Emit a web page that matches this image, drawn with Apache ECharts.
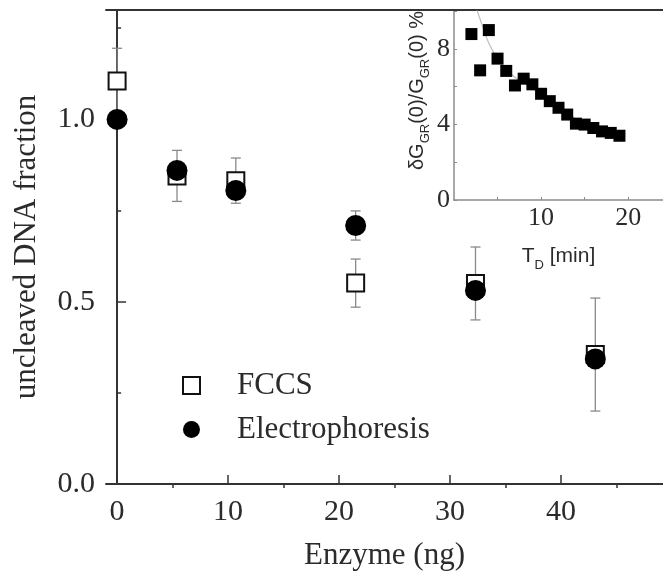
<!DOCTYPE html>
<html>
<head>
<meta charset="utf-8">
<script src="https://cdn.jsdelivr.net/npm/echarts@6/dist/echarts.min.js"></script>
<style>
  html, body { margin: 0; padding: 0; background: #fff; }
  #chart { width: 663px; height: 576px; }
</style>
</head>
<body>
<div id="chart"></div>
<script>
// main plot: enzyme amount (ng) vs uncleaved DNA fraction
var enzyme = [0, 5.4, 10.7, 21.5, 32.3, 43.1];
var fccs = [1.105, 0.845, 0.832, 0.551, 0.55, 0.355];
var fccsErr = [0.09, 0.07, 0.062, 0.066, 0.1, 0.155];
var electro = [1.0, 0.86, 0.805, 0.709, 0.531, 0.343];
var electroErr = [0, 0, 0, 0.04, 0, 0];

var xMajor = [0, 10, 20, 30, 40];
var xMinor = [5, 15, 25, 35, 45];
var yMajor = [0, 0.5, 1.0];
var yMinor = [0.25, 0.75, 1.25];

// inset: relative fluctuation vs measuring time
var tD = [2, 3, 4, 5, 6, 7, 8, 9, 10, 11, 12, 13, 14, 15, 16, 17, 18, 19];
var dG = [8.78, 6.86, 8.99, 7.48, 6.83, 6.06, 6.42, 6.12, 5.62, 5.23, 4.88, 4.52, 4.04, 3.99, 3.81, 3.63, 3.55, 3.40];
var fitT = [2.6, 3.2, 4.0, 5, 6, 7, 8, 10, 12, 14, 16, 18, 19];
var fitG = [10.1, 9.3, 8.3, 7.5, 6.9, 6.5, 6.2, 5.6, 4.9, 4.3, 3.9, 3.55, 3.4];
var insetXMajor = [10, 20];
var insetXMinor = [5, 15];
var insetYMajor = [0, 4, 8];
var insetYMinor = [2, 6, 10];

var serif = "Liberation Serif";
var sans = "Liberation Sans";
var txt = "#2b2b2b";

function pairs(xs, ys) {
  return xs.map(function (x, i) { return [x, ys[i]]; });
}
function errData(xs, ys, es) {
  var out = [];
  xs.forEach(function (x, i) {
    if (es[i] > 0) out.push([x, ys[i] - es[i], ys[i] + es[i]]);
  });
  return out;
}

function errorBar(params, api) {
  var lo = api.coord([api.value(0), api.value(1)]);
  var hi = api.coord([api.value(0), api.value(2)]);
  var w = 5;
  var st = { stroke: "#8a8a8a", lineWidth: 1.3 };
  return {
    type: "group",
    children: [
      { type: "line", shape: { x1: lo[0], y1: lo[1], x2: hi[0], y2: hi[1] }, style: st },
      { type: "line", shape: { x1: lo[0] - w, y1: lo[1], x2: lo[0] + w, y2: lo[1] }, style: st },
      { type: "line", shape: { x1: hi[0] - w, y1: hi[1], x2: hi[0] + w, y2: hi[1] }, style: st }
    ]
  };
}

var myChart = echarts.init(document.getElementById("chart"));

var mainLine = { show: true, lineStyle: { color: "#333", width: 2 } };
var insetLine = { show: true, lineStyle: { color: "#8c8c8c", width: 1.5 } };

var option = {
  animation: false,
  backgroundColor: "#fff",
  grid: [
    { left: 106, top: 10, right: 0, bottom: 87 },
    { left: 454, top: 11, right: 0, bottom: 376 }
  ],
  legend: {
    orient: "vertical",
    left: 177,
    top: 365,
    itemWidth: 17,
    itemHeight: 17,
    itemGap: 13,
    data: ["FCCS", "Electrophoresis"],
    textStyle: { fontFamily: serif, fontSize: 31, color: txt, lineHeight: 30, padding: [0, 0, 0, 32] }
  },
  xAxis: [
    {
      gridIndex: 0, type: "value", min: -1, max: 49.2,
      name: "Enzyme (ng)", nameLocation: "middle", nameGap: 56,
      nameTextStyle: { fontFamily: serif, fontSize: 31, color: txt },
      axisLine: mainLine,
      axisTick: { show: true, inside: true, length: 9, customValues: xMajor, lineStyle: { color: "#333", width: 1.5 } },
      axisLabel: { customValues: xMajor, fontFamily: serif, fontSize: 30, color: txt, margin: 13 },
      splitLine: { show: false }
    },
    {
      gridIndex: 0, type: "value", min: -1, max: 49.2,
      axisLine: { show: false },
      axisTick: { show: true, inside: true, length: 4, customValues: xMinor, lineStyle: { color: "#333", width: 1.5 } },
      axisLabel: { show: false },
      splitLine: { show: false }
    },
    {
      gridIndex: 0, type: "value", min: -1, max: 49.2, position: "top",
      axisLine: mainLine, axisTick: { show: false }, axisLabel: { show: false }, splitLine: { show: false }
    },
    {
      gridIndex: 1, type: "value", min: 0, max: 24,
      name: "{n|T}{s|D}{n| [min]}", nameLocation: "middle", nameGap: 46,
      nameTextStyle: {
        rich: {
          n: { fontFamily: sans, fontSize: 21, color: txt, lineHeight: 26, verticalAlign: "top" },
          s: { fontFamily: sans, fontSize: 13, color: txt, lineHeight: 13, verticalAlign: "bottom" }
        }
      },
      axisLine: insetLine,
      axisTick: { show: true, inside: true, length: 3, customValues: insetXMajor.concat(insetXMinor), lineStyle: { color: "#8c8c8c" } },
      axisLabel: { customValues: insetXMajor, fontFamily: serif, fontSize: 26, color: txt, margin: 5 },
      splitLine: { show: false }
    }
  ],
  yAxis: [
    {
      gridIndex: 0, type: "value", min: 0, max: 1.3, position: "left",
      name: "uncleaved DNA fraction", nameLocation: "middle", nameGap: 64,
      nameTextStyle: { fontFamily: serif, fontSize: 31, color: txt },
      axisLine: mainLine,
      axisTick: { show: true, inside: true, length: 9, customValues: yMajor, lineStyle: { color: "#333", width: 1.5 } },
      axisLabel: {
        customValues: yMajor, fontFamily: serif, fontSize: 30, color: txt, margin: 11,
        formatter: function (v) { return v.toFixed(1); }
      },
      splitLine: { show: false }
    },
    {
      gridIndex: 0, type: "value", min: 0, max: 1.3, position: "left",
      axisLine: { show: false },
      axisTick: { show: true, inside: true, length: 4, customValues: yMinor, lineStyle: { color: "#333", width: 1.5 } },
      axisLabel: { show: false },
      splitLine: { show: false }
    },
    {
      gridIndex: 1, type: "value", min: 0, max: 10,
      name: "{n|δG}{s|GR}{n|(0)/G}{s|GR}{n|(0) %}", nameLocation: "middle", nameGap: 22,
      nameTextStyle: {
        padding: [0, 0, 0, 30],
        rich: {
          n: { fontFamily: sans, fontSize: 20, color: txt, lineHeight: 25, verticalAlign: "top" },
          s: { fontFamily: sans, fontSize: 13, color: txt, lineHeight: 13, verticalAlign: "bottom" }
        }
      },
      axisLine: insetLine,
      axisTick: { show: true, inside: true, length: 3, customValues: insetYMajor.concat(insetYMinor), lineStyle: { color: "#8c8c8c" } },
      axisLabel: { customValues: insetYMajor, fontFamily: serif, fontSize: 26, color: txt, margin: 4 },
      splitLine: { show: false }
    }
  ],
  series: [
    {
      type: "custom", name: "fccsErr", xAxisIndex: 0, yAxisIndex: 0, z: 1,
      renderItem: errorBar, data: errData(enzyme, fccs, fccsErr)
    },
    {
      type: "custom", name: "electroErr", xAxisIndex: 0, yAxisIndex: 0, z: 1,
      renderItem: errorBar, data: errData(enzyme, electro, electroErr)
    },
    {
      type: "scatter", name: "FCCS", xAxisIndex: 0, yAxisIndex: 0, z: 2,
      symbol: "rect", symbolSize: 17,
      itemStyle: { color: "#fff", borderColor: "#111", borderWidth: 2, opacity: 1 },
      data: pairs(enzyme, fccs)
    },
    {
      type: "scatter", name: "Electrophoresis", xAxisIndex: 0, yAxisIndex: 0, z: 3,
      symbol: "circle", symbolSize: 21,
      itemStyle: { color: "#000", opacity: 1 },
      data: pairs(enzyme, electro)
    },
    {
      type: "line", name: "fit", xAxisIndex: 3, yAxisIndex: 2, z: 2,
      smooth: true, symbol: "none",
      lineStyle: { color: "#bdbdbd", width: 1.2 },
      data: pairs(fitT, fitG)
    },
    {
      type: "scatter", name: "inset", xAxisIndex: 3, yAxisIndex: 2, z: 3,
      symbol: "rect", symbolSize: 12,
      itemStyle: { color: "#000", opacity: 1 },
      data: pairs(tD, dG)
    }
  ]
};

myChart.setOption(option);
</script>
</body>
</html>
